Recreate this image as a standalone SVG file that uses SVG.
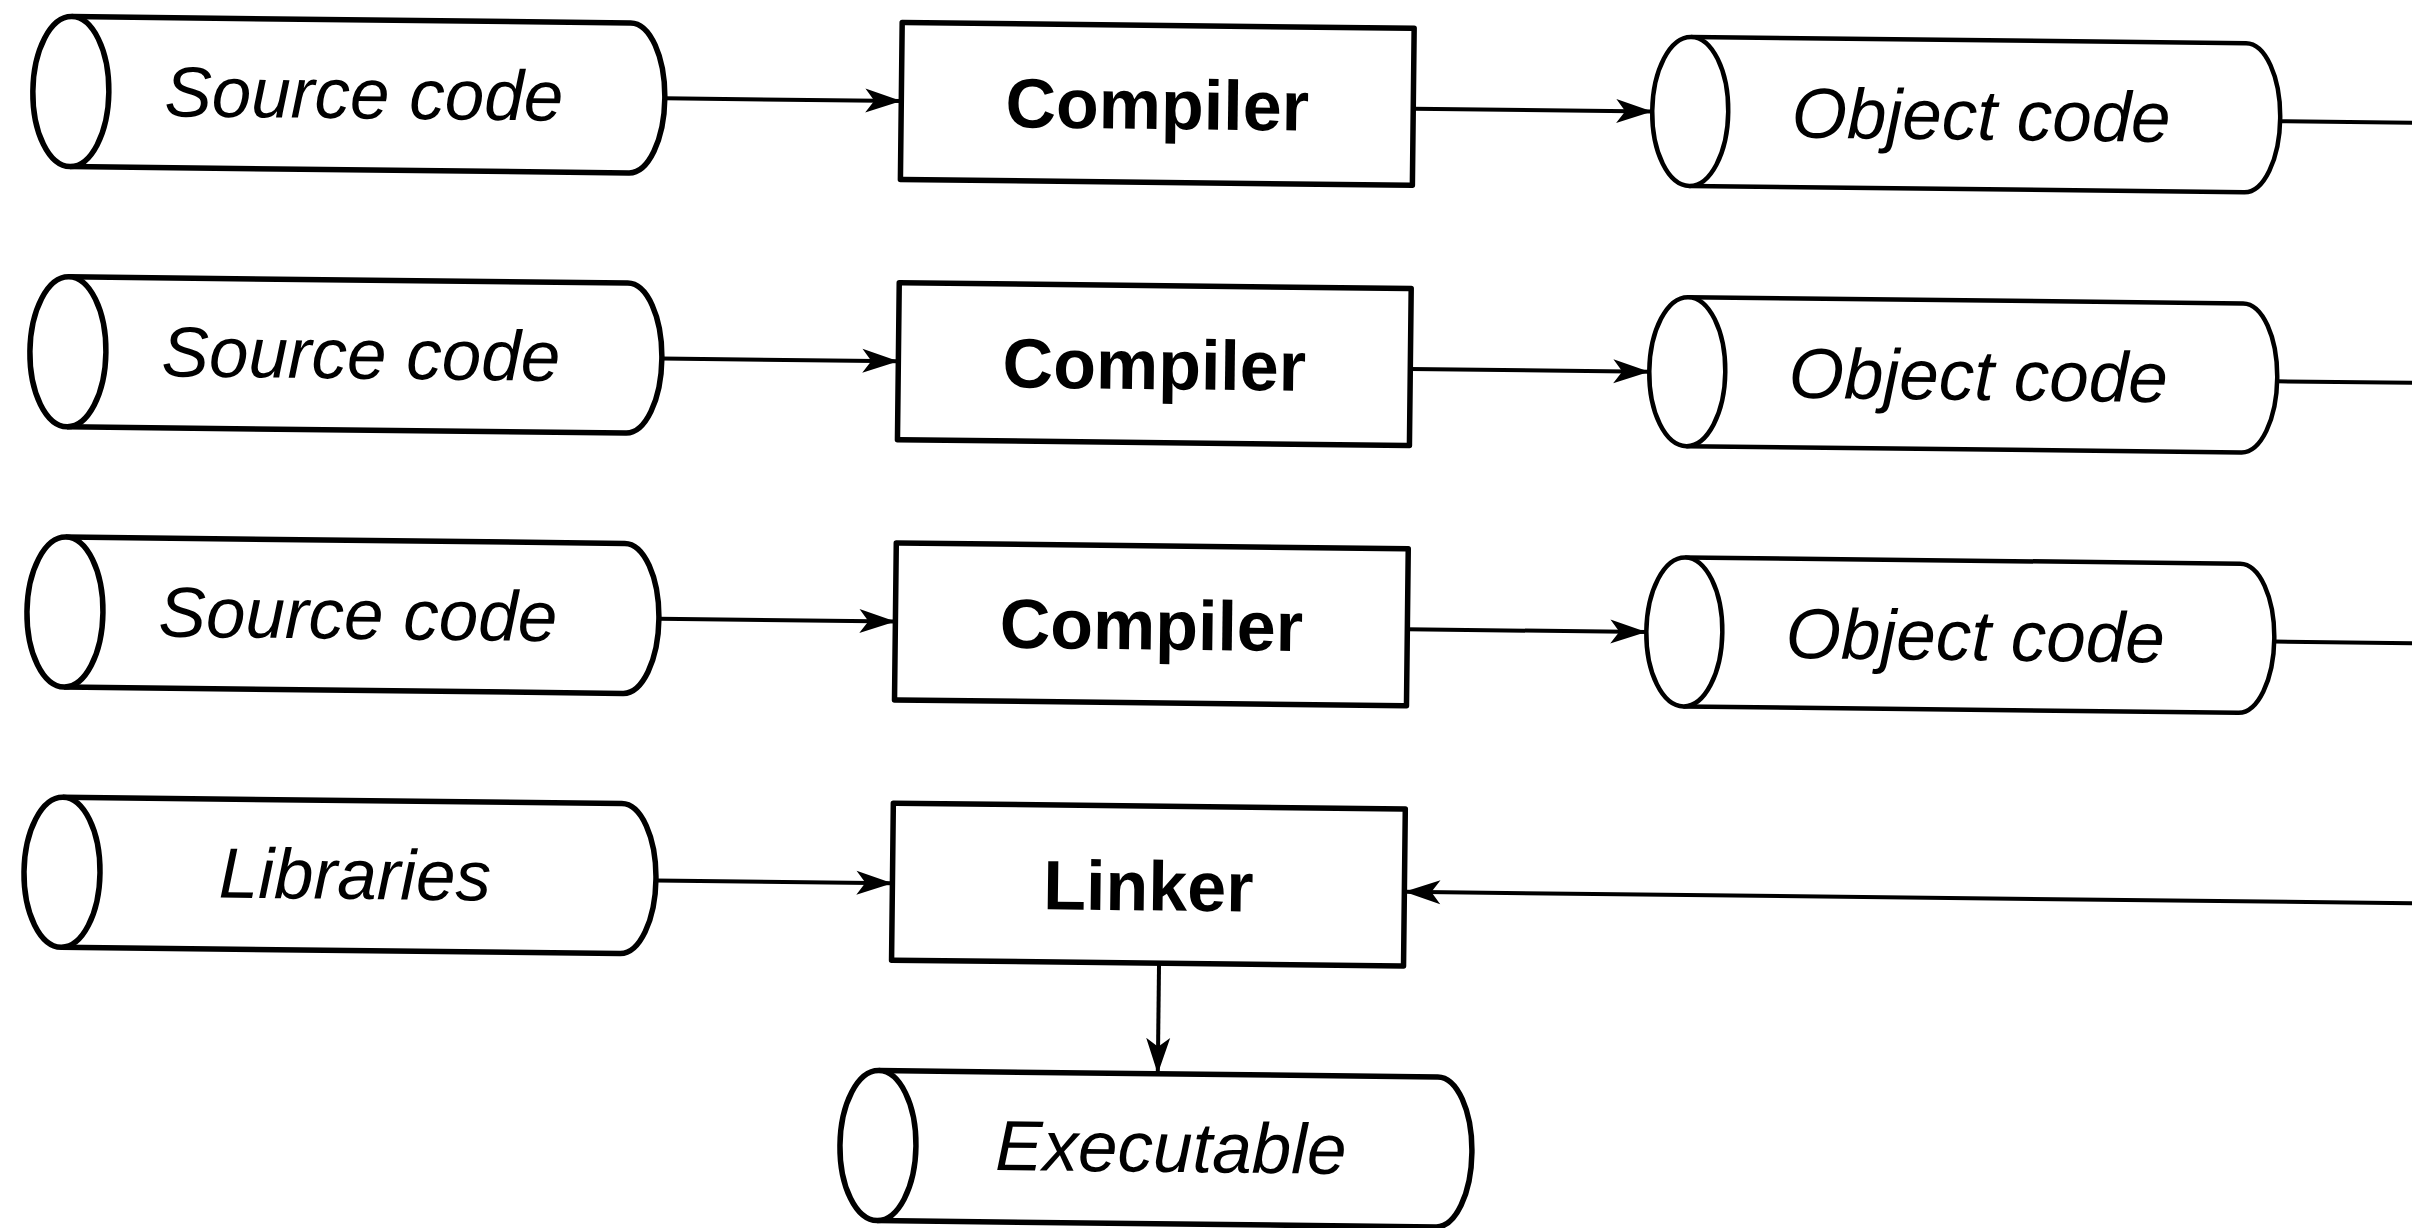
<svg xmlns="http://www.w3.org/2000/svg" width="2412" height="1228" viewBox="0 0 2412 1228">
  <style>
    .node { fill: #fff; stroke: #000; stroke-width: 5.5; stroke-linejoin: round; }
    .obj { stroke-width: 4.5; }
    .lbl { font-family: "Liberation Sans", Arial, sans-serif; font-size: 71px; font-style: italic; fill: #000; text-anchor: middle; }
    .proc { font-family: "Liberation Sans", Arial, sans-serif; font-size: 70px; font-weight: bold; fill: #000; text-anchor: middle; }
    .conn { fill: none; stroke: #000; stroke-width: 4; }
  </style>
  <defs>
    <marker id="arrow" markerUnits="userSpaceOnUse" viewBox="-38 -14 40 28" markerWidth="40" markerHeight="28" refX="0" refY="0" orient="auto">
      <path d="M0,0 L-36,-12 L-27,0 L-36,12 Z" fill="#000"/>
    </marker>
  </defs>
  <rect width="2412" height="1228" fill="#fff"/>
  <g transform="rotate(0.65 1206 614)">
    <g id="connectors">
      <path class="conn" d="M659,104.5 H895.5" marker-end="url(#arrow)"/>
      <path class="conn" d="M659,364.7 H895.5" marker-end="url(#arrow)"/>
      <path class="conn" d="M659,625 H895.5" marker-end="url(#arrow)"/>
      <path class="conn" d="M659,886.7 H895.5" marker-end="url(#arrow)"/>
      <path class="conn" d="M1407.5,106.5 H1646.5" marker-end="url(#arrow)"/>
      <path class="conn" d="M1407.5,366.7 H1646.5" marker-end="url(#arrow)"/>
      <path class="conn" d="M1407.5,627 H1646.5" marker-end="url(#arrow)"/>
      <path class="conn" d="M2274.5,109 H2470"/>
      <path class="conn" d="M2274.5,369.2 H2470"/>
      <path class="conn" d="M2274.5,629.5 H2470"/>
      <path class="conn" d="M2470,889.5 H1407.5" marker-end="url(#arrow)"/>
      <path class="conn" d="M1163,963.8 V1074.3" marker-end="url(#arrow)"/>
    </g>

    <g id="source1">
      <path class="node" d="M65,29.5 H624 A35,75 0 0 1 624,179.5 H65"/>
      <ellipse class="node" cx="65" cy="104.5" rx="38" ry="75"/>
      <text class="lbl" x="358" y="128">Source code</text>
    </g>
    <g id="source2">
      <path class="node" d="M65,289.7 H624 A35,75 0 0 1 624,439.7 H65"/>
      <ellipse class="node" cx="65" cy="364.7" rx="38" ry="75"/>
      <text class="lbl" x="358" y="388.2">Source code</text>
    </g>
    <g id="source3">
      <path class="node" d="M65,550 H624 A35,75 0 0 1 624,700 H65"/>
      <ellipse class="node" cx="65" cy="625" rx="38" ry="75"/>
      <text class="lbl" x="358" y="648.5">Source code</text>
    </g>
    <g id="libraries">
      <path class="node" d="M65,810.2 H624 A35,75 0 0 1 624,960.2 H65"/>
      <ellipse class="node" cx="65" cy="885.2" rx="38" ry="75"/>
      <text class="lbl" x="358" y="908.7">Libraries</text>
    </g>

    <g id="compiler1">
      <rect class="node" x="895.5" y="26" width="512" height="157"/>
      <text class="proc" x="1151.5" y="129.5">Compiler</text>
    </g>
    <g id="compiler2">
      <rect class="node" x="895.5" y="286.2" width="512" height="157"/>
      <text class="proc" x="1151.5" y="389.7">Compiler</text>
    </g>
    <g id="compiler3">
      <rect class="node" x="895.5" y="546.5" width="512" height="157"/>
      <text class="proc" x="1151.5" y="650">Compiler</text>
    </g>
    <g id="linker">
      <rect class="node" x="895.5" y="806.7" width="512" height="157"/>
      <text class="proc" x="1151.5" y="911">Linker</text>
    </g>

    <g id="object1">
      <path class="node obj" d="M1684.5,31.5 H2239.5 A35,74.5 0 0 1 2239.5,180.5 H1684.5"/>
      <ellipse class="node obj" cx="1684.5" cy="106" rx="38" ry="74.5"/>
      <text class="lbl" x="1975.5" y="131">Object code</text>
    </g>
    <g id="object2">
      <path class="node obj" d="M1684.5,291.7 H2239.5 A35,74.5 0 0 1 2239.5,440.7 H1684.5"/>
      <ellipse class="node obj" cx="1684.5" cy="366.2" rx="38" ry="74.5"/>
      <text class="lbl" x="1975.5" y="391.2">Object code</text>
    </g>
    <g id="object3">
      <path class="node obj" d="M1684.5,552 H2239.5 A35,74.5 0 0 1 2239.5,701 H1684.5"/>
      <ellipse class="node obj" cx="1684.5" cy="626.5" rx="38" ry="74.5"/>
      <text class="lbl" x="1975.5" y="651.5">Object code</text>
    </g>

    <g id="executable">
      <path class="node" d="M884,1074.3 H1443 A35,75 0 0 1 1443,1224.3 H884"/>
      <ellipse class="node" cx="884" cy="1149.3" rx="38" ry="75"/>
      <text class="lbl" x="1177" y="1172.3">Executable</text>
    </g>
  </g>
</svg>
